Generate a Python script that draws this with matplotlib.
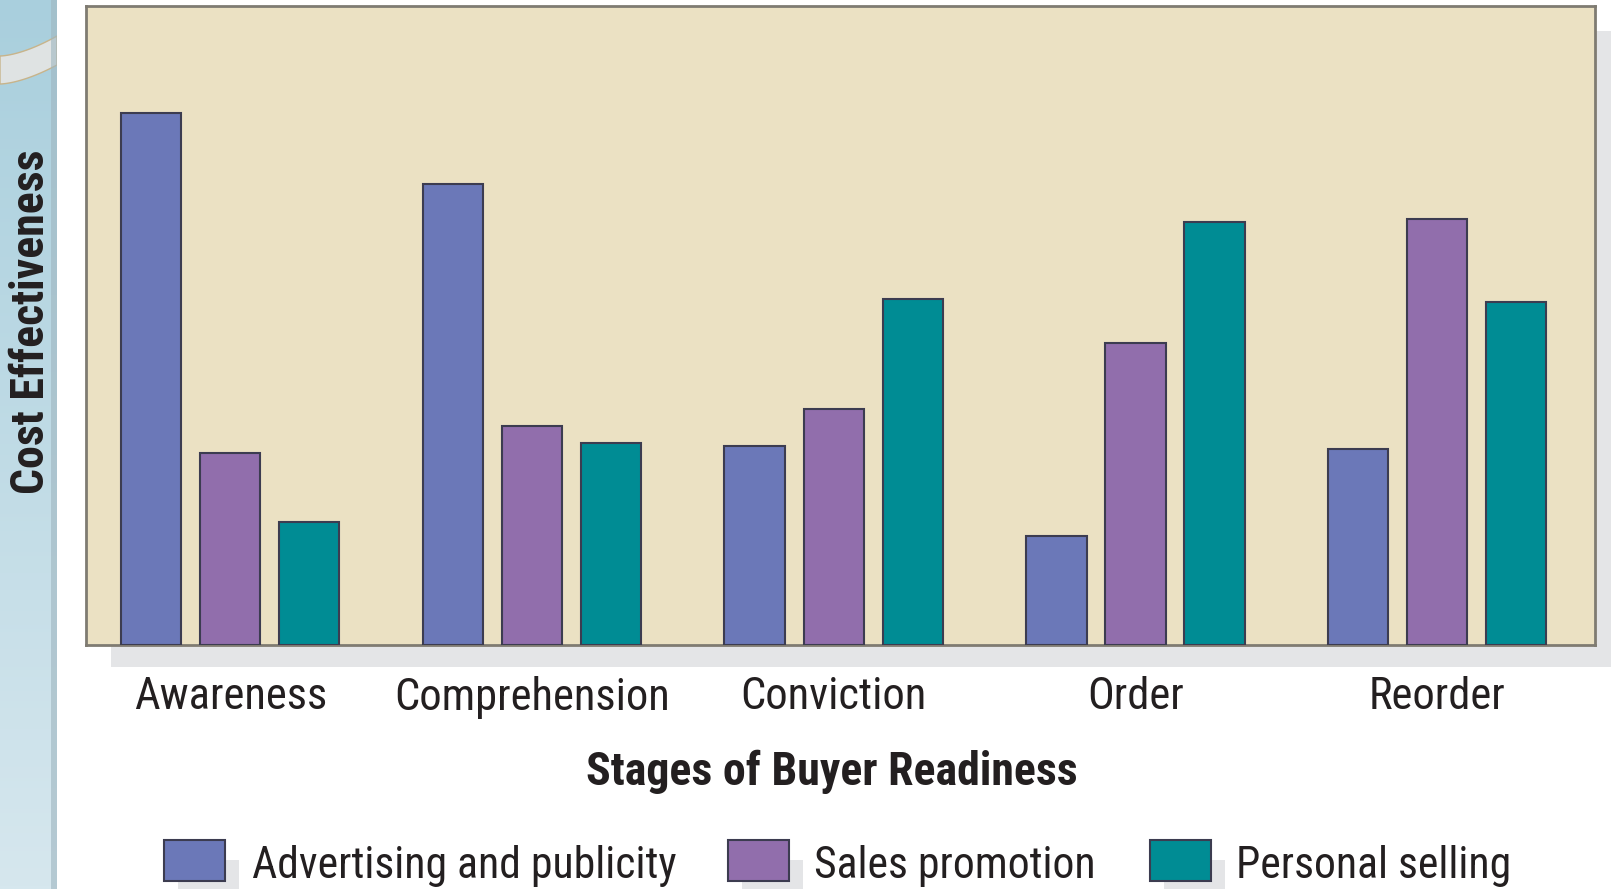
import numpy as np
import matplotlib
matplotlib.use("Agg")
import matplotlib.pyplot as plt
from matplotlib.patches import Rectangle, Polygon
from matplotlib.colors import LinearSegmentedColormap

# data (0-100 scale)
stages = ["Awareness", "Comprehension", "Conviction", "Order", "Reorder"]
series = ["Advertising and publicity", "Sales promotion", "Personal selling"]
advertising = [83.3, 72.1, 31.1, 17.1, 30.6]
sales_promo = [30.1, 34.3, 37.0, 47.2, 66.7]
personal = [19.2, 31.6, 54.1, 66.2, 53.6]
colors = ["#6b78b8", "#916eac", "#008c94"]

plt.rcParams["font.family"] = ["Roboto Condensed", "Pragati Narrow", "PT Sans Narrow", "DejaVu Sans"]
TXT = "#231f20"

W, H = 1611, 889
fig = plt.figure(figsize=(W / 100, H / 100), dpi=100)
fig.patch.set_facecolor("white")

def px(x0, y0, w, h):
    # pixel box (from top-left) -> figure fraction rect
    return [x0 / W, 1 - (y0 + h) / H, w / W, h / H]

# left blue strip with gradient
strip = fig.add_axes(px(0, 0, 57, H))
grad = np.linspace(0, 1, 256).reshape(-1, 1)
cm = LinearSegmentedColormap.from_list("strip", ["#a9cfdd", "#d6e7ee"])
strip.imshow(grad, aspect="auto", cmap=cm, extent=[0, 57, H, 0])
# curved band at the top
xs = np.linspace(0, 57, 40)
upper = 56 - 20 * (xs / 57) ** 1.6
lower = 84 - 19 * (xs / 57) ** 1.6
band = Polygon(np.column_stack([np.r_[xs, xs[::-1]], np.r_[upper, lower[::-1]]]),
               closed=True, facecolor="#dfe3e3", edgecolor="#c8b48a", lw=1.0)
strip.add_patch(band)
strip.add_patch(Rectangle((51, 0), 6, H, facecolor="#9fb6c0", edgecolor="none", alpha=0.6))
strip.set_xlim(0, 57)
strip.set_ylim(H, 0)
strip.axis("off")

# plot shadow
fig.patches.append(Rectangle((111 / W, 1 - 667 / H), (W - 111) / W, (667 - 31) / H,
                             transform=fig.transFigure, facecolor="#e4e5e7",
                             edgecolor="none", zorder=0))

ax = fig.add_axes(px(86, 6, 1509, 639))
ax.set_facecolor("#ebe1c3")
ax.set_zorder(2)

x = np.arange(len(stages))
step = 0.262
width = 0.2
for i, (vals, c) in enumerate(zip([advertising, sales_promo, personal], colors)):
    ax.bar(x + (i - 1) * step, vals, width, color=c, edgecolor="#3c3c50", linewidth=1.5, zorder=3)

ax.set_xlim(-0.478, 4.523)
ax.set_ylim(0, 100)
ax.set_yticks([])
ax.set_xticks(x)
ax.set_xticklabels(stages, fontsize=32, color=TXT)
ax.tick_params(axis="x", length=0, pad=22)
for s in ax.spines.values():
    s.set_color("#7f7b72")
    s.set_linewidth(2)

fig.text(31 / W, 1 - 322 / H, "Cost Effectiveness", rotation=90, ha="center", va="center",
         fontsize=33, fontweight="bold", color=TXT)
fig.text(832 / W, 1 - 785 / H, "Stages of Buyer Readiness", ha="center", va="baseline",
         fontsize=33, fontweight="bold", color=TXT)

# legend drawn by hand with offset shadows
patch_left = [164, 728, 1150]
text_left = [252, 814, 1236]
for lbl, c, pl, tl in zip(series, colors, patch_left, text_left):
    fig.patches.append(Rectangle(((pl + 14) / W, 1 - (881 + 20) / H), 61 / W, 41 / H,
                                 transform=fig.transFigure, facecolor="#e4e5e7",
                                 edgecolor="none", zorder=1))
    fig.patches.append(Rectangle((pl / W, 1 - 881 / H), 61 / W, 41 / H,
                                 transform=fig.transFigure, facecolor=c,
                                 edgecolor="#3c3c50", lw=1.5, zorder=2))
    fig.text(tl / W, 1 - 878 / H, lbl, ha="left", va="baseline", fontsize=31.5, color=TXT)

fig.savefig("out.png", dpi=100)
